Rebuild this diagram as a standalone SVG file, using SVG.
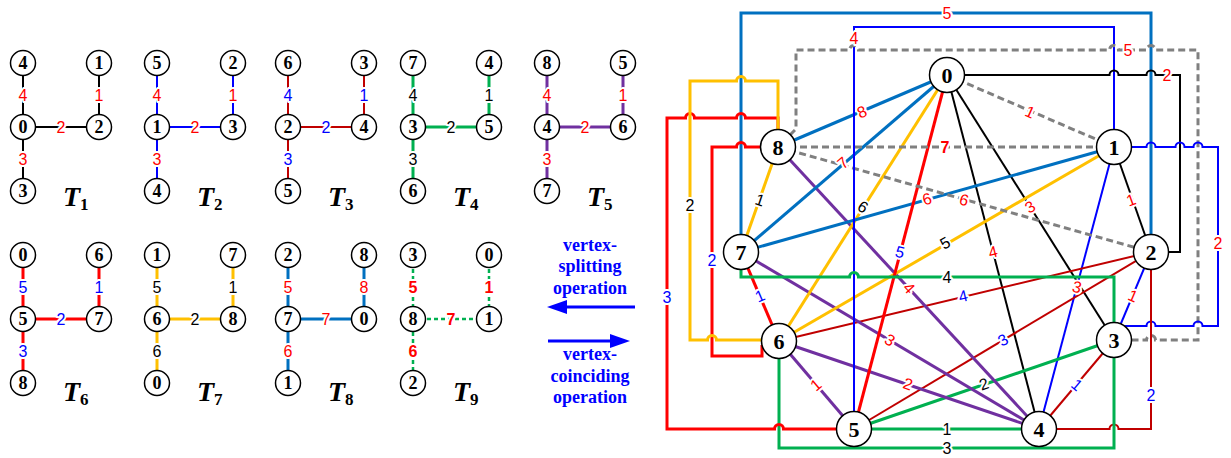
<svg xmlns="http://www.w3.org/2000/svg" width="1231" height="458" viewBox="0 0 1231 458">
<defs>
<marker id="ah" viewBox="0 0 20 14" refX="10" refY="7" markerWidth="20" markerHeight="14" markerUnits="userSpaceOnUse" orient="auto"><path d="M0,0 L20,7 L0,14 z" fill="#0000FF"/></marker>
</defs>
<style>
.e{fill:none}
.k{stroke:#000;stroke-width:2}
.b{stroke:#0000FF;stroke-width:2}
.dr{stroke:#C00000;stroke-width:2}
.g{stroke:#00B050;stroke-width:3}
.p{stroke:#7030A0;stroke-width:3}
.r{stroke:#FF0000;stroke-width:3}
.y{stroke:#FFC000;stroke-width:3}
.lb{stroke:#0070C0;stroke-width:3}
.gd{stroke:#808080;stroke-width:3;stroke-dasharray:7 4}
.gt{stroke:#00B050;stroke-width:2.5;stroke-dasharray:4 3}
.lab{font-family:"Liberation Sans",Arial,sans-serif;font-size:16px;text-anchor:middle;dominant-baseline:central;stroke:#fff;stroke-width:4;paint-order:stroke fill;stroke-linejoin:round}
.tl{font-size:16px}
.cr{fill:#FF0000}
.cb{fill:#0000FF}
.ck{fill:#000}
.bd{font-weight:bold}
.tn circle{fill:#fff;stroke:#000;stroke-width:1.5}
.tn text{font-family:"Liberation Serif","Times New Roman",serif;font-weight:bold;font-size:18px;text-anchor:middle;dominant-baseline:central;fill:#000}
.gn circle{fill:#fff;stroke:#000;stroke-width:1.5}
.gn text{font-family:"Liberation Serif","Times New Roman",serif;font-weight:bold;font-size:22px;text-anchor:middle;dominant-baseline:central;fill:#000}
.tt{font-family:"Liberation Serif","Times New Roman",serif;font-weight:bold;font-style:italic;font-size:28px;fill:#000}
.tt tspan{font-style:normal;font-size:17px}
.op{font-family:"Liberation Serif","Times New Roman",serif;font-weight:bold;font-size:18px;fill:#0000FF;text-anchor:middle}
.ar{stroke:#0000FF;stroke-width:3;fill:none}
</style>
<rect width="1231" height="458" fill="#fff"/>

<!-- ===== Trees ===== -->
<g id="tree1">
<g class="connectors">
<path class="e k" d="M23 63V191M99 63V127M23 127H99"/>
<text class="lab tl cr" x="23" y="95">4</text><text class="lab tl cr" x="99" y="95">1</text><text class="lab tl cr" x="61" y="127">2</text><text class="lab tl cr" x="23" y="159">3</text>
</g>
<g id="t1-4" class="tn"><circle cx="23" cy="63" r="12.5"/><text x="23" y="63">4</text></g>
<g id="t1-1" class="tn"><circle cx="99" cy="63" r="12.5"/><text x="99" y="63">1</text></g>
<g id="t1-0" class="tn"><circle cx="23" cy="127" r="12.5"/><text x="23" y="127">0</text></g>
<g id="t1-2" class="tn"><circle cx="99" cy="127" r="12.5"/><text x="99" y="127">2</text></g>
<g id="t1-3" class="tn"><circle cx="23" cy="191" r="12.5"/><text x="23" y="191">3</text></g>
<text class="tt" x="63" y="206">T<tspan dy="4">1</tspan></text>
</g>

<g id="tree2">
<g class="connectors">
<path class="e b" d="M157 63V191M233 63V127M157 127H233"/>
<text class="lab tl cr" x="157" y="95">4</text><text class="lab tl cr" x="233" y="95">1</text><text class="lab tl cr" x="195" y="127">2</text><text class="lab tl cr" x="157" y="159">3</text>
</g>
<g id="t2-5" class="tn"><circle cx="157" cy="63" r="12.5"/><text x="157" y="63">5</text></g>
<g id="t2-2" class="tn"><circle cx="233" cy="63" r="12.5"/><text x="233" y="63">2</text></g>
<g id="t2-1" class="tn"><circle cx="157" cy="127" r="12.5"/><text x="157" y="127">1</text></g>
<g id="t2-3" class="tn"><circle cx="233" cy="127" r="12.5"/><text x="233" y="127">3</text></g>
<g id="t2-4" class="tn"><circle cx="157" cy="191" r="12.5"/><text x="157" y="191">4</text></g>
<text class="tt" x="197" y="206">T<tspan dy="4">2</tspan></text>
</g>

<g id="tree3">
<g class="connectors">
<path class="e dr" d="M288 63V191M364 63V127M288 127H364"/>
<text class="lab tl cb" x="288" y="95">4</text><text class="lab tl cb" x="364" y="95">1</text><text class="lab tl cb" x="326" y="127">2</text><text class="lab tl cb" x="288" y="159">3</text>
</g>
<g id="t3-6" class="tn"><circle cx="288" cy="63" r="12.5"/><text x="288" y="63">6</text></g>
<g id="t3-3" class="tn"><circle cx="364" cy="63" r="12.5"/><text x="364" y="63">3</text></g>
<g id="t3-2" class="tn"><circle cx="288" cy="127" r="12.5"/><text x="288" y="127">2</text></g>
<g id="t3-4" class="tn"><circle cx="364" cy="127" r="12.5"/><text x="364" y="127">4</text></g>
<g id="t3-5" class="tn"><circle cx="288" cy="191" r="12.5"/><text x="288" y="191">5</text></g>
<text class="tt" x="328" y="206">T<tspan dy="4">3</tspan></text>
</g>

<g id="tree4">
<g class="connectors">
<path class="e g" d="M413 63V191M489 63V127M413 127H489"/>
<text class="lab tl ck" x="413" y="95">4</text><text class="lab tl ck" x="489" y="95">1</text><text class="lab tl ck" x="451" y="127">2</text><text class="lab tl ck" x="413" y="159">3</text>
</g>
<g id="t4-7" class="tn"><circle cx="413" cy="63" r="12.5"/><text x="413" y="63">7</text></g>
<g id="t4-4" class="tn"><circle cx="489" cy="63" r="12.5"/><text x="489" y="63">4</text></g>
<g id="t4-3" class="tn"><circle cx="413" cy="127" r="12.5"/><text x="413" y="127">3</text></g>
<g id="t4-5" class="tn"><circle cx="489" cy="127" r="12.5"/><text x="489" y="127">5</text></g>
<g id="t4-6" class="tn"><circle cx="413" cy="191" r="12.5"/><text x="413" y="191">6</text></g>
<text class="tt" x="453" y="206">T<tspan dy="4">4</tspan></text>
</g>

<g id="tree5">
<g class="connectors">
<path class="e p" d="M547 63V191M623 63V127M547 127H623"/>
<text class="lab tl cr" x="547" y="95">4</text><text class="lab tl cr" x="623" y="95">1</text><text class="lab tl cr" x="585" y="127">2</text><text class="lab tl cr" x="547" y="159">3</text>
</g>
<g id="t5-8" class="tn"><circle cx="547" cy="63" r="12.5"/><text x="547" y="63">8</text></g>
<g id="t5-5" class="tn"><circle cx="623" cy="63" r="12.5"/><text x="623" y="63">5</text></g>
<g id="t5-4" class="tn"><circle cx="547" cy="127" r="12.5"/><text x="547" y="127">4</text></g>
<g id="t5-6" class="tn"><circle cx="623" cy="127" r="12.5"/><text x="623" y="127">6</text></g>
<g id="t5-7" class="tn"><circle cx="547" cy="191" r="12.5"/><text x="547" y="191">7</text></g>
<text class="tt" x="587" y="206">T<tspan dy="4">5</tspan></text>
</g>

<g id="tree6">
<g class="connectors">
<path class="e r" d="M23 255V383M99 255V319M23 319H99"/>
<text class="lab tl cb" x="23" y="287">5</text><text class="lab tl cb" x="99" y="287">1</text><text class="lab tl cb" x="61" y="319">2</text><text class="lab tl cb" x="23" y="351">3</text>
</g>
<g id="t6-0" class="tn"><circle cx="23" cy="255" r="12.5"/><text x="23" y="255">0</text></g>
<g id="t6-6" class="tn"><circle cx="99" cy="255" r="12.5"/><text x="99" y="255">6</text></g>
<g id="t6-5" class="tn"><circle cx="23" cy="319" r="12.5"/><text x="23" y="319">5</text></g>
<g id="t6-7" class="tn"><circle cx="99" cy="319" r="12.5"/><text x="99" y="319">7</text></g>
<g id="t6-8" class="tn"><circle cx="23" cy="383" r="12.5"/><text x="23" y="383">8</text></g>
<text class="tt" x="63" y="401">T<tspan dy="4">6</tspan></text>
</g>

<g id="tree7">
<g class="connectors">
<path class="e y" d="M157 255V383M233 255V319M157 319H233"/>
<text class="lab tl ck" x="157" y="287">5</text><text class="lab tl ck" x="233" y="287">1</text><text class="lab tl ck" x="195" y="319">2</text><text class="lab tl ck" x="157" y="351">6</text>
</g>
<g id="t7-1" class="tn"><circle cx="157" cy="255" r="12.5"/><text x="157" y="255">1</text></g>
<g id="t7-7" class="tn"><circle cx="233" cy="255" r="12.5"/><text x="233" y="255">7</text></g>
<g id="t7-6" class="tn"><circle cx="157" cy="319" r="12.5"/><text x="157" y="319">6</text></g>
<g id="t7-8" class="tn"><circle cx="233" cy="319" r="12.5"/><text x="233" y="319">8</text></g>
<g id="t7-0" class="tn"><circle cx="157" cy="383" r="12.5"/><text x="157" y="383">0</text></g>
<text class="tt" x="197" y="401">T<tspan dy="4">7</tspan></text>
</g>

<g id="tree8">
<g class="connectors">
<path class="e lb" d="M288 255V383M364 255V319M288 319H364"/>
<text class="lab tl cr" x="288" y="287">5</text><text class="lab tl cr" x="364" y="287">8</text><text class="lab tl cr" x="326" y="319">7</text><text class="lab tl cr" x="288" y="351">6</text>
</g>
<g id="t8-2" class="tn"><circle cx="288" cy="255" r="12.5"/><text x="288" y="255">2</text></g>
<g id="t8-8" class="tn"><circle cx="364" cy="255" r="12.5"/><text x="364" y="255">8</text></g>
<g id="t8-7" class="tn"><circle cx="288" cy="319" r="12.5"/><text x="288" y="319">7</text></g>
<g id="t8-0" class="tn"><circle cx="364" cy="319" r="12.5"/><text x="364" y="319">0</text></g>
<g id="t8-1" class="tn"><circle cx="288" cy="383" r="12.5"/><text x="288" y="383">1</text></g>
<text class="tt" x="328" y="401">T<tspan dy="4">8</tspan></text>
</g>

<g id="tree9">
<g class="connectors">
<path class="e gt" d="M413 255V383M489 255V319M413 319H489"/>
<text class="lab tl cr bd" x="413" y="287">5</text><text class="lab tl cr bd" x="489" y="287">1</text><text class="lab tl cr bd" x="451" y="319">7</text><text class="lab tl cr bd" x="413" y="351">6</text>
</g>
<g id="t9-3" class="tn"><circle cx="413" cy="255" r="12.5"/><text x="413" y="255">3</text></g>
<g id="t9-0" class="tn"><circle cx="489" cy="255" r="12.5"/><text x="489" y="255">0</text></g>
<g id="t9-8" class="tn"><circle cx="413" cy="319" r="12.5"/><text x="413" y="319">8</text></g>
<g id="t9-1" class="tn"><circle cx="489" cy="319" r="12.5"/><text x="489" y="319">1</text></g>
<g id="t9-2" class="tn"><circle cx="413" cy="383" r="12.5"/><text x="413" y="383">2</text></g>
<text class="tt" x="453" y="401">T<tspan dy="4">9</tspan></text>
</g>

<!-- ===== Operations ===== -->
<g id="operations">
<text class="op" x="590" y="251">vertex-</text>
<text class="op" x="590" y="272">splitting</text>
<text class="op" x="590" y="294">operation</text>
<line class="ar" x1="635" y1="307" x2="557" y2="307" marker-end="url(#ah)"/>
<line class="ar" x1="548" y1="341" x2="620" y2="341" marker-end="url(#ah)"/>
<text class="op" x="590" y="360">vertex-</text>
<text class="op" x="590" y="382">coinciding</text>
<text class="op" x="590" y="403">operation</text>
</g>

<!-- ===== Graph connectors ===== -->
<g id="graph-connectors">
<line class="k" x1="947" y1="75" x2="1039" y2="429"/>
<line class="k" x1="947" y1="75" x2="1114" y2="340"/>
<line class="k" x1="1114" y1="147" x2="1151" y2="252"/>
<line class="b" x1="1114" y1="147" x2="1039" y2="429"/>
<line class="b" x1="1151" y1="252" x2="1114" y2="340"/>
<line class="dr" x1="779" y1="341" x2="1151" y2="252"/>
<line class="dr" x1="854" y1="429" x2="1151" y2="252"/>
<line class="dr" x1="1114" y1="340" x2="1039" y2="429"/>
<line class="g" x1="854" y1="429" x2="1114" y2="340"/>
<line class="g" x1="854" y1="429" x2="1039" y2="429"/>
<line class="p" x1="778" y1="147" x2="1039" y2="429"/>
<line class="p" x1="779" y1="341" x2="1039" y2="429"/>
<line class="p" x1="741" y1="252" x2="1039" y2="429"/>
<line class="p" x1="779" y1="341" x2="854" y2="429"/>
<line class="y" x1="1114" y1="147" x2="779" y2="341"/>
<line class="y" x1="947" y1="75" x2="779" y2="341"/>
<line class="y" x1="741" y1="252" x2="778" y2="147"/>
<line class="lb" x1="741" y1="252" x2="947" y2="75"/>
<line class="lb" x1="741" y1="252" x2="1114" y2="147"/>
<line class="lb" x1="778" y1="147" x2="947" y2="75"/>
<line class="r" x1="947" y1="75" x2="854" y2="429"/>
<line class="r" x1="741" y1="252" x2="779" y2="341"/>
<line class="gd" x1="778" y1="147" x2="1114" y2="147"/>
<line class="gd" x1="778" y1="147" x2="1151" y2="252"/>
<line class="gd" x1="947" y1="75" x2="1114" y2="147"/>
<path class="e lb" d="M741 234.5V13H1151V234.5"/>
<path class="e b" d="M1114 129.5V27H854V411.5"/>
<path class="e gd" d="M790 135L796 129V50H849.5A4.5 4.5 0 0 1 858.5 50H1109.5A4.5 4.5 0 0 1 1118.5 50H1146.5A4.5 4.5 0 0 1 1155.5 50H1198V340H1155.5A4.5 4.5 0 0 0 1146.5 340H1131.5"/>
<path class="e k" d="M964.5 75H1109.5A4.5 4.5 0 0 1 1118.5 75H1146.5A4.5 4.5 0 0 1 1155.5 75H1180V252H1168.5"/>
<path class="e b" d="M1131.5 147H1146.5A4.5 4.5 0 0 1 1155.5 147H1175.5A4.5 4.5 0 0 1 1184.5 147H1193.5A4.5 4.5 0 0 1 1202.5 147H1218V326H1202.5A4.5 4.5 0 0 0 1193.5 326H1155.5A4.5 4.5 0 0 0 1146.5 326H1124"/>
<path class="e dr" d="M1151 269.5V429H1118.5A4.5 4.5 0 0 0 1109.5 429H1056.5"/>
<path class="e g" d="M741 269.5V277H849.5A4.5 4.5 0 0 1 858.5 277H1114V322.5"/>
<path class="e g" d="M779 358.5V448H1114V357.5"/>
<path class="e r" d="M836.5 429H783.5A4.5 4.5 0 0 0 774.5 429H667V118H685.5A4.5 4.5 0 0 1 694.5 118H736.5A4.5 4.5 0 0 1 745.5 118H778V129.5"/>
<path class="e r" d="M760.5 147H745.5A4.5 4.5 0 0 0 736.5 147H712V356H762V345"/>
<path class="e y" d="M761.5 340H716.5A4.5 4.5 0 0 0 707.5 340H690V81H736.5A4.5 4.5 0 0 1 745.5 81H778V129.5"/>
<text class="lab cr" x="947" y="13">5</text>
<text class="lab cr" x="854" y="38">4</text>
<text class="lab cr" x="1128" y="50">5</text>
<text class="lab cr" x="1167" y="75">2</text>
<text class="lab cr" x="1218" y="243">2</text>
<text class="lab cb" x="1151" y="395">2</text>
<text class="lab ck" x="947" y="277">4</text>
<text class="lab ck" x="947" y="429">1</text>
<text class="lab ck" x="947" y="448">3</text>
<text class="lab ck" x="690" y="205">2</text>
<text class="lab cb" x="712" y="260">2</text>
<text class="lab cb" x="667" y="297">3</text>
<text class="lab cr" x="993" y="252" transform="rotate(-14.6 993 252)">4</text>
<text class="lab cr" x="1030" y="207" transform="rotate(-32 1030 207)">3</text>
<text class="lab cr" x="1131" y="200" transform="rotate(-20 1131 200)">1</text>
<text class="lab cr" x="1077" y="287" transform="rotate(15 1077 287)">3</text>
<text class="lab cr" x="1133" y="296" transform="rotate(23 1133 296)">1</text>
<text class="lab cb" x="963" y="296" transform="rotate(-13.5 963 296)">4</text>
<text class="lab cb" x="1003" y="340" transform="rotate(-31 1003 340)">3</text>
<text class="lab cb" x="1077" y="385" transform="rotate(40 1077 385)">1</text>
<text class="lab ck" x="984" y="384" transform="rotate(-19 984 384)">2</text>
<text class="lab cr" x="909" y="288" transform="rotate(47 909 288)">4</text>
<text class="lab cr" x="890" y="340" transform="rotate(31 890 340)">3</text>
<text class="lab cr" x="908" y="384" transform="rotate(19 908 384)">2</text>
<text class="lab cr" x="816" y="385" transform="rotate(-40 816 385)">1</text>
<text class="lab cb" x="900" y="252" transform="rotate(15 900 252)">5</text>
<text class="lab cb" x="760" y="296" transform="rotate(-23 760 296)">1</text>
<text class="lab ck" x="945" y="243" transform="rotate(-30 945 243)">5</text>
<text class="lab ck" x="863" y="207" transform="rotate(32 863 207)">6</text>
<text class="lab ck" x="760" y="200" transform="rotate(19 760 200)">1</text>
<text class="lab cr" x="843" y="163" transform="rotate(-41 843 163)">7</text>
<text class="lab cr" x="927" y="199" transform="rotate(-16 927 199)">6</text>
<text class="lab cr" x="862" y="112" transform="rotate(-23 862 112)">8</text>
<text class="lab cr bd" x="945" y="147">7</text>
<text class="lab cr" x="964" y="200" transform="rotate(16 964 200)">6</text>
<text class="lab cr" x="1030" y="112" transform="rotate(24 1030 112)">1</text>
</g>

<!-- ===== Graph nodes ===== -->
<g id="g-0" class="gn"><circle cx="947" cy="75" r="17.5"/><text x="947" y="75">0</text></g>
<g id="g-1" class="gn"><circle cx="1114" cy="147" r="17.5"/><text x="1114" y="147">1</text></g>
<g id="g-2" class="gn"><circle cx="1151" cy="252" r="17.5"/><text x="1151" y="252">2</text></g>
<g id="g-3" class="gn"><circle cx="1114" cy="340" r="17.5"/><text x="1114" y="340">3</text></g>
<g id="g-4" class="gn"><circle cx="1039" cy="429" r="17.5"/><text x="1039" y="429">4</text></g>
<g id="g-5" class="gn"><circle cx="854" cy="429" r="17.5"/><text x="854" y="429">5</text></g>
<g id="g-6" class="gn"><circle cx="779" cy="341" r="17.5"/><text x="779" y="341">6</text></g>
<g id="g-7" class="gn"><circle cx="741" cy="252" r="17.5"/><text x="741" y="252">7</text></g>
<g id="g-8" class="gn"><circle cx="778" cy="147" r="17.5"/><text x="778" y="147">8</text></g>
</svg>
